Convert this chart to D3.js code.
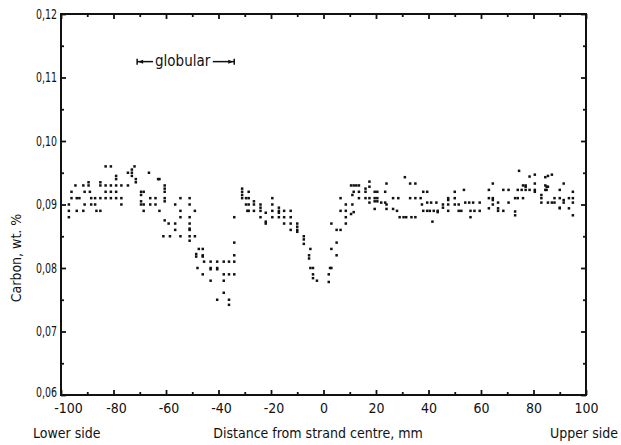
<!DOCTYPE html>
<html>
<head>
<meta charset="utf-8">
<script src="https://cdn.jsdelivr.net/npm/d3@7"></script>
<style>
  html, body { margin: 0; padding: 0; background: #fff; }
  svg { display: block; }
  text { font-family: "DejaVu Sans Condensed", "Liberation Sans Narrow", sans-serif; fill: #111; }
</style>
</head>
<body>
<svg id="chart" width="621" height="445"></svg>
<script>
// ---- Data ----
const distance = [
  -97,-97,-97,-96,-96,-94.5,-94,-94,-93,-91.5,-91.5,-91,-91,
  -89.5,-89.5,-89,-88.5,-88.5,-87,-87,-86.5,-85,-85,-85,-85,
  -83,-83,-83,-83,-81,-81,-81,-81,-79,-79,-79,-79,-79,-77,-77,-77,
  -74.5,-74.5,-73,-73,-73,-72,-71.5,-71.5,
  -69.5,-69.5,-69.5,-69.5,-68.5,-68.5,-68.5,-66.5,-66,-66,-64,-64,-63,-62.5,-62.5,
  -60.5,-60.5,-60.5,-60.5,-60.5,-60.5,-61,-59,-58.5,-56.5,-56.5,-56.5,
  -54.5,-54.5,-54.5,-54.5,-51,-51,-51,-51,-51,-51,-51,-51,-49,-49,
  -48.5,-48.5,-48,-47.5,-46,-46,-46,-46,-45.5,
  -43,-43,-43,-43,-40.5,-40.5,-40.5,-40.5,-38,-38,-38,-38,-36,-36,-36,-36,
  -34,-34,-34,-34,-34,-31,-31,-31,-31,-29.5,-29.5,-29,
  -28.5,-28.5,-28.5,-28.5,-26.5,-26.5,-26.5,-24,-24,-24,-24,-22,-22,-22,
  -19.5,-19.5,-19.5,-19.5,-17,-17,-17,-17,-15,-15,-15,-12.5,-12.5,-12.5,-12.5,
  -10,-10,-10,-10,-7.5,-7.5,-7.5,-5,-5.5,-5.5,-5,-4,-4,-4,-2.5,
  2.5,3,2,2,3,5,5,3,5,6.5,6.5,6.5,8.5,8.5,8.5,8.5,
  10.5,11.5,12.5,11,11.5,10.5,11.5,11,13.5,13.5,13.5,16,16,16,
  17.5,17.5,17.5,17.5,19.5,20.5,19.5,20.5,19.5,20.5,19.5,
  23.5,24,22,23.5,24,24,26.5,26.5,28,28.5,29,30.5,31.5,33.5,35,
  31,33,35,35,33,37,37.5,38,39.5,38,39.5,39.5,41,43,40.5,42,41.5,
  43.5,43.5,45.5,45.5,47.5,47.5,47.5,47.5,50,50,50,51.5,51.5,52.5,
  53.5,54,55.5,57,59.5,56,56,57.5,59.5,63,63,64.5,64.5,64.5,64.5,63,
  66.5,66.5,66.5,68.5,68.5,70.5,70.5,73,73,73,74,76,74,75.5,77,74.5,
  76,77,77,78.5,80.5,78.5,80.5,80.5,80.5,83,83,83,
  84.5,85.5,87,84.5,85,85.5,84.5,85,85.5,87,88,88,
  90,90,90,90,91.5,91.5,91.5,93.5,93.5,95,95,95,95
];
const carbon = [
  0.090,0.089,0.088,0.092,0.091,0.093,0.091,0.089,0.091,0.093,0.089,0.092,0.090,
  0.0935,0.093,0.092,0.091,0.090,0.091,0.090,0.089,0.089,0.091,0.093,0.0935,
  0.093,0.092,0.096,0.091,0.096,0.093,0.092,0.091,0.0945,0.094,0.093,0.092,0.091,0.093,0.091,0.090,
  0.095,0.093,0.0955,0.095,0.0945,0.096,0.094,0.0935,
  0.092,0.0915,0.0905,0.090,0.092,0.090,0.089,0.095,0.091,0.090,0.091,0.090,0.094,0.094,0.089,
  0.093,0.0925,0.092,0.091,0.0905,0.0875,0.085,0.087,0.085,0.087,0.090,0.086,
  0.091,0.089,0.088,0.085,0.091,0.090,0.088,0.087,0.0862,0.086,0.085,0.0843,0.089,0.085,
  0.0822,0.0818,0.080,0.083,0.083,0.082,0.0818,0.079,0.081,
  0.081,0.080,0.0798,0.078,0.081,0.080,0.0798,0.075,0.081,0.079,0.078,0.0761,0.081,0.079,0.075,0.0742,
  0.082,0.081,0.079,0.084,0.088,0.0925,0.092,0.0915,0.091,0.091,0.090,0.089,
  0.092,0.091,0.090,0.089,0.0905,0.090,0.089,0.090,0.0895,0.089,0.088,0.0887,0.0873,0.087,
  0.091,0.090,0.089,0.088,0.0895,0.089,0.0887,0.088,0.089,0.088,0.087,0.089,0.088,0.087,0.086,
  0.087,0.0865,0.086,0.0857,0.085,0.0845,0.0838,0.083,0.082,0.0815,0.080,0.080,0.079,0.0784,0.078,
  0.080,0.080,0.079,0.0778,0.083,0.084,0.082,0.087,0.086,0.086,0.089,0.091,0.090,0.089,0.088,0.087,
  0.093,0.093,0.093,0.0915,0.092,0.0885,0.0888,0.090,0.091,0.092,0.093,0.0925,0.092,0.091,
  0.0936,0.0928,0.091,0.0903,0.092,0.092,0.091,0.091,0.0905,0.0905,0.0893,
  0.092,0.0933,0.0903,0.0903,0.090,0.0893,0.091,0.0893,0.089,0.091,0.088,0.088,0.088,0.088,0.088,
  0.0943,0.0933,0.0933,0.091,0.091,0.091,0.090,0.092,0.092,0.089,0.089,0.0903,0.0903,0.0903,0.089,0.089,0.0873,
  0.089,0.0888,0.090,0.0895,0.091,0.0907,0.090,0.089,0.092,0.091,0.090,0.090,0.089,0.089,
  0.0923,0.0903,0.0903,0.0903,0.0903,0.088,0.089,0.089,0.089,0.0923,0.091,0.0933,0.091,0.0907,0.090,0.0894,
  0.0903,0.0894,0.089,0.0923,0.089,0.0903,0.0923,0.0889,0.0883,0.091,0.091,0.091,0.0923,0.0923,0.0923,0.0953,
  0.093,0.093,0.0928,0.0944,0.0947,0.0923,0.0933,0.0923,0.092,0.0915,0.091,0.0903,
  0.0943,0.0945,0.0947,0.093,0.0928,0.0928,0.0923,0.0923,0.0903,0.0903,0.091,0.0903,
  0.0923,0.091,0.0895,0.0894,0.0933,0.0907,0.0903,0.091,0.0894,0.092,0.091,0.0903,0.0883
];
const xMajorTicks = [-100,-80,-60,-40,-20,0,20,40,60,80,100];
const xMinorTicks = [-90,-70,-50,-30,-10,10,30,50,70,90];
const yMajorTicks = [0.06,0.07,0.08,0.09,0.10,0.11,0.12];
const yMinorTicks = [0.065,0.075,0.085,0.095,0.105,0.115];
const globularRange = [-71, -34];
const globularY = 0.1125;

// ---- Layout ----
const svg = d3.select("#chart");
const L = 61, R = 586, T = 14, B = 395;
const x = d3.scaleLinear().domain([-100, 100]).range([L, R]);
const y = d3.scaleLinear().domain([0.06, 0.12]).range([B, T]);
const fmtY = d => d3.format(".2f")(d).replace(".", ",");
const fmtX = d => (d < 0 ? "-" + Math.abs(d) : String(d));

function styleAxis(g) {
  g.select(".domain").remove();
  g.selectAll(".tick line").attr("stroke", "#111").attr("stroke-width", 1.8);
  g.selectAll("text").style("font-size", "14px");
}
// bottom
const gxb = svg.append("g").attr("transform", `translate(0,${B})`)
  .call(d3.axisBottom(x).tickValues(xMajorTicks).tickSize(-5).tickPadding(8).tickFormat(fmtX))
  .call(styleAxis);
gxb.selectAll(".tick text").attr("dx", d => d === -100 ? 7 : (d < 0 ? 2.5 : 0));
svg.append("g").attr("transform", `translate(0,${B})`)
  .call(d3.axisBottom(x).tickValues(xMinorTicks).tickSize(-3).tickFormat(""))
  .call(styleAxis);
// top
svg.append("g").attr("transform", `translate(0,${T})`)
  .call(d3.axisTop(x).tickValues(xMajorTicks).tickSize(-5).tickFormat(""))
  .call(styleAxis);
svg.append("g").attr("transform", `translate(0,${T})`)
  .call(d3.axisTop(x).tickValues(xMinorTicks).tickSize(-3).tickFormat(""))
  .call(styleAxis);
// left
const gyl = svg.append("g").attr("transform", `translate(${L},0)`)
  .call(d3.axisLeft(y).tickValues(yMajorTicks).tickSize(-5).tickPadding(4).tickFormat(fmtY))
  .call(styleAxis);
gyl.selectAll(".tick text").attr("textLength", 21).attr("lengthAdjust", "spacingAndGlyphs")
  .attr("dy", d => d === 0.06 ? "0.1em" : "0.32em");
svg.append("g").attr("transform", `translate(${L},0)`)
  .call(d3.axisLeft(y).tickValues(yMinorTicks).tickSize(-3).tickFormat(""))
  .call(styleAxis);
// right
svg.append("g").attr("transform", `translate(${R},0)`)
  .call(d3.axisRight(y).tickValues(yMajorTicks).tickSize(-5).tickFormat(""))
  .call(styleAxis);
svg.append("g").attr("transform", `translate(${R},0)`)
  .call(d3.axisRight(y).tickValues(yMinorTicks).tickSize(-3).tickFormat(""))
  .call(styleAxis);

// frame
svg.append("rect").attr("x", L).attr("y", T).attr("width", R - L).attr("height", B - T)
  .attr("fill", "none").attr("stroke", "#111").attr("stroke-width", 2);

// points
const pts = distance.map((d, i) => [d, carbon[i]]);
svg.append("g").selectAll("rect").data(pts).join("rect")
  .attr("x", d => x(d[0]) - 1.25).attr("y", d => y(d[1]) - 1.25)
  .attr("width", 2.5).attr("height", 2.5).attr("fill", "#111");

// globular annotation
const gy = y(globularY);
const gx0 = x(globularRange[0]), gx1 = x(globularRange[1]);
const ann = svg.append("g");
const gt = ann.append("text").attr("x", (gx0 + gx1) / 2 - 3).attr("y", gy + 4.5)
  .attr("text-anchor", "middle").style("font-size", "15px").text("globular");
const bb = gt.node().getBBox();
ann.append("line").attr("x1", gx0).attr("x2", bb.x - 2).attr("y1", gy).attr("y2", gy).attr("stroke", "#111").attr("stroke-width", 1.5);
ann.append("line").attr("x1", bb.x + bb.width + 2).attr("x2", gx1).attr("y1", gy).attr("y2", gy).attr("stroke", "#111").attr("stroke-width", 1.5);
[gx0, gx1].forEach(px => {
  ann.append("line").attr("x1", px).attr("x2", px).attr("y1", gy - 3).attr("y2", gy + 3).attr("stroke", "#111").attr("stroke-width", 1.5);
});
ann.append("path").attr("d", `M${gx0 + 1},${gy} L${gx0 + 6},${gy - 2} L${gx0 + 6},${gy + 2} Z`).attr("fill", "#111");
ann.append("path").attr("d", `M${gx1 - 1},${gy} L${gx1 - 6},${gy - 2} L${gx1 - 6},${gy + 2} Z`).attr("fill", "#111");

// axis titles
svg.append("text").attr("x", 318).attr("y", 438).attr("text-anchor", "middle")
  .style("font-size", "14px").text("Distance from strand centre, mm");
svg.append("text").attr("x", 33).attr("y", 438).attr("text-anchor", "start")
  .style("font-size", "14px").text("Lower side");
svg.append("text").attr("x", 618).attr("y", 438).attr("text-anchor", "end")
  .style("font-size", "14px").text("Upper side");
svg.append("text").attr("transform", "translate(21,258) rotate(-90)").attr("text-anchor", "middle")
  .style("font-size", "14px").text("Carbon, wt. %");
</script>
</body>
</html>
